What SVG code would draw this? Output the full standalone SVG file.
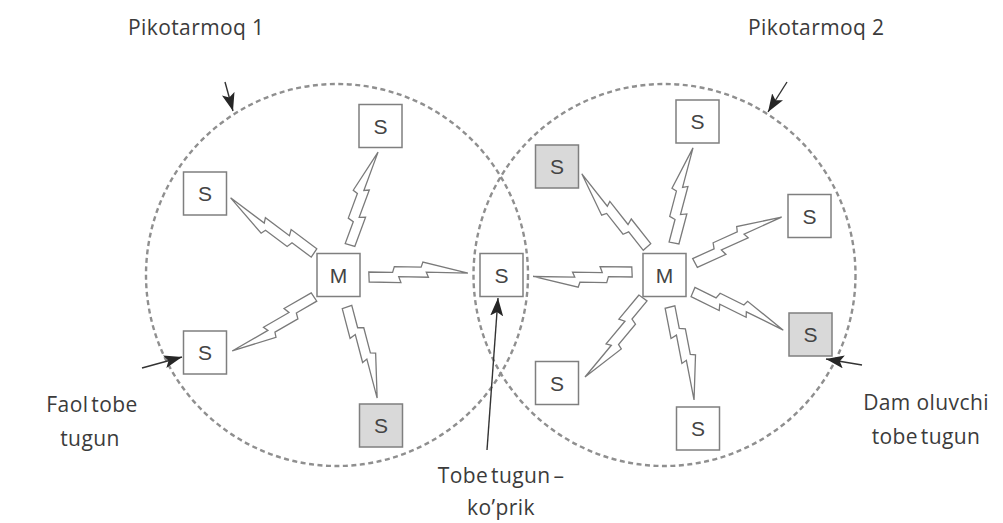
<svg xmlns="http://www.w3.org/2000/svg" xmlns:xlink="http://www.w3.org/1999/xlink" width="1003" height="523" viewBox="0 0 1003 523">
  <style>
    .zone { fill: none; stroke: #8f8f8f; stroke-width: 2.4; stroke-dasharray: 5 3.5; }
    .box { fill: #ffffff; stroke: #7f7f7f; stroke-width: 1.5; }
    .box.park { fill: #d9d9d9; }
    .sym { font-family: "Liberation Sans", Arial, sans-serif; font-size: 21px; fill: #444444; text-anchor: middle; }
    .label { font-family: "Open Sans", "Liberation Sans", sans-serif; font-size: 21px; fill: #3b3b3b; letter-spacing: 0.4px; }
    .mid { text-anchor: middle; }
    .bolt { fill: #ffffff; stroke: #7a7a7a; stroke-width: 1.3; stroke-linejoin: miter; }
    .pointer { stroke: #333333; stroke-width: 1.4; fill: none; marker-end: url(#head); }
  </style>
  <defs>
    <!-- radio link: flat end at origin, sharp tip at (100,0) -->
    <polygon id="bolt" class="bolt" vector-effect="non-scaling-stroke"
      points="0,5 32,6.9 30,0.8 60,2.6 58,-2.5 100,0 55,-12.7 53,-7.8 26,-9.4 24,-3.6 0,-5"/>
    <marker id="head" markerUnits="userSpaceOnUse" markerWidth="20" markerHeight="14"
      refX="18" refY="6.5" orient="auto">
      <path d="M0,0 L18,6.5 L0,13 L4,6.5 Z" fill="#262626"/>
    </marker>
  </defs>

  <rect width="1003" height="523" fill="#ffffff"/>

  <!-- piconet boundaries -->
  <g id="piconets">
    <circle class="zone" cx="337" cy="275" r="191"/>
    <circle class="zone" cx="664.5" cy="275" r="191"/>
  </g>

  <!-- radio links and label pointers -->
  <g id="connectors">
    <use xlink:href="#bolt" transform="translate(350,245) rotate(-73.2) scale(0.97,1)"/>
    <use xlink:href="#bolt" transform="translate(314,253) rotate(-146.5) scale(1,1)"/>
    <use xlink:href="#bolt" transform="translate(369,277) rotate(-2.3) scale(0.99,1)"/>
    <use xlink:href="#bolt" transform="translate(314,297) rotate(146.6) scale(0.98,1)"/>
    <use xlink:href="#bolt" transform="translate(347,307) rotate(71.7) scale(0.96,1)"/>

    <use xlink:href="#bolt" transform="translate(632,272) rotate(177.4) scale(0.99,1)"/>
    <use xlink:href="#bolt" transform="translate(647,247) rotate(-131.7) scale(0.98,1)"/>
    <use xlink:href="#bolt" transform="translate(674,243) rotate(-78.7) scale(0.97,1)"/>
    <use xlink:href="#bolt" transform="translate(695,263) rotate(-27.9) scale(0.98,1)"/>
    <use xlink:href="#bolt" transform="translate(693,292) rotate(22.9) scale(0.98,1)"/>
    <use xlink:href="#bolt" transform="translate(643,298) rotate(126.3) scale(0.98,1)"/>
    <use xlink:href="#bolt" transform="translate(670,307) rotate(75.5) scale(0.96,1)"/>

    <line class="pointer" x1="225" y1="82" x2="233" y2="111"/>
    <line class="pointer" x1="787" y1="82" x2="768" y2="112"/>
    <line class="pointer" x1="142" y1="368" x2="182" y2="357"/>
    <line class="pointer" x1="862" y1="365" x2="826" y2="359"/>
    <line class="pointer" x1="487" y1="450" x2="498" y2="298"/>
  </g>

  <!-- piconet 1 -->
  <g id="master-1">
    <rect class="box" x="317" y="253.5" width="43" height="43"/>
    <text class="sym" x="338.5" y="282.5">M</text>
  </g>
  <g id="slave-1a">
    <rect class="box" x="359" y="104.5" width="43" height="43"/>
    <text class="sym" x="380.5" y="133.5">S</text>
  </g>
  <g id="slave-1b">
    <rect class="box" x="183.5" y="172" width="43" height="43"/>
    <text class="sym" x="205" y="201">S</text>
  </g>
  <g id="slave-1c">
    <rect class="box" x="183.5" y="331" width="43" height="43"/>
    <text class="sym" x="205" y="360">S</text>
  </g>
  <g id="slave-1d">
    <rect class="box park" x="359.5" y="404" width="43" height="43"/>
    <text class="sym" x="381" y="433">S</text>
  </g>

  <!-- shared slave acting as bridge -->
  <g id="bridge">
    <rect class="box" x="480" y="253.5" width="43" height="43"/>
    <text class="sym" x="501.5" y="282.5">S</text>
  </g>

  <!-- piconet 2 -->
  <g id="master-2">
    <rect class="box" x="643" y="253.5" width="43" height="43"/>
    <text class="sym" x="664.5" y="282.5">M</text>
  </g>
  <g id="slave-2a">
    <rect class="box" x="676" y="100" width="43" height="43"/>
    <text class="sym" x="697.5" y="129">S</text>
  </g>
  <g id="slave-2b">
    <rect class="box park" x="535.5" y="145" width="43" height="43"/>
    <text class="sym" x="557" y="174">S</text>
  </g>
  <g id="slave-2c">
    <rect class="box" x="788" y="194.5" width="43" height="43"/>
    <text class="sym" x="809.5" y="223.5">S</text>
  </g>
  <g id="slave-2d">
    <rect class="box park" x="789" y="313" width="43" height="43"/>
    <text class="sym" x="810.5" y="342">S</text>
  </g>
  <g id="slave-2e">
    <rect class="box" x="535.5" y="361.5" width="43" height="43"/>
    <text class="sym" x="557" y="390.5">S</text>
  </g>
  <g id="slave-2f">
    <rect class="box" x="676.5" y="407" width="43" height="43"/>
    <text class="sym" x="698" y="436">S</text>
  </g>

  <!-- captions -->
  <g id="captions">
    <text class="label" x="128" y="35">Pikotarmoq 1</text>
    <text class="label" x="748" y="35">Pikotarmoq 2</text>
    <text class="label mid" x="92" y="412" word-spacing="-3">Faol tobe</text>
    <text class="label mid" x="90" y="446">tugun</text>
    <text class="label mid" x="926" y="410">Dam oluvchi</text>
    <text class="label mid" x="926" y="444" word-spacing="-3">tobe tugun</text>
    <text class="label mid" x="501" y="483" word-spacing="-3">Tobe tugun –</text>
    <text class="label mid" x="501" y="515">ko’prik</text>
  </g>
</svg>
